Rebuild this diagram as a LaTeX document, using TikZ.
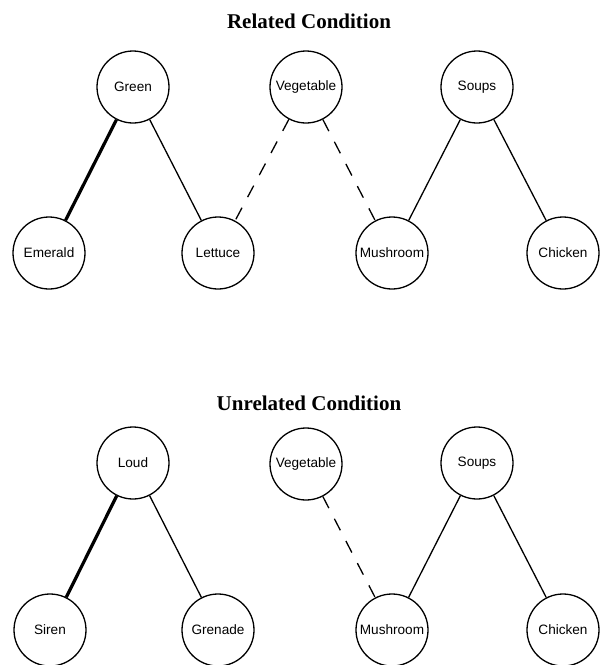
\documentclass[tikz,border=0pt]{standalone}
\usepackage{fontspec}
\setmainfont{Liberation Serif}
\setsansfont{Liberation Sans}
\begin{document}
\begin{tikzpicture}[x=1pt,y=-1pt,
  word/.style={circle, draw, line width=1.3pt, minimum size=72pt, inner sep=0pt,
    font=\sffamily\fontsize{13.6}{14}\selectfont},
  heading/.style={anchor=base, font=\bfseries\fontsize{21}{24}\selectfont},
  link/.style={line width=1.3pt},
  stronglink/.style={line width=3.2pt},
  weaklink/.style={line width=1.3pt, dash pattern=on 13pt off 12pt}]
\useasboundingbox (0,0) rectangle (600,665);

% Related condition
\node[heading] (t1) at (309,28) {Related Condition};
\node[word] (green) at (133,87) {Green};
\node[word] (veg1) at (306,87) {Vegetable};
\node[word] (soups1) at (477,87) {Soups};
\node[word] (emerald) at (49,253) {Emerald};
\node[word] (lettuce) at (218,253) {Lettuce};
\node[word] (mush1) at (392,253) {Mushroom};
\node[word] (chick1) at (563,253) {Chicken};

\draw[stronglink] (green) -- (emerald);
\draw[link] (green) -- (lettuce);
\draw[weaklink] (veg1) -- (lettuce);
\draw[weaklink] (veg1) -- (mush1);
\draw[link] (soups1) -- (mush1);
\draw[link] (soups1) -- (chick1);

% Unrelated condition
\node[heading] (t2) at (309,410) {Unrelated Condition};
\node[word] (loud) at (133,463) {Loud};
\node[word] (veg2) at (306,464) {Vegetable};
\node[word] (soups2) at (477,463) {Soups};
\node[word] (siren) at (50,630) {Siren};
\node[word] (grenade) at (218,630) {Grenade};
\node[word] (mush2) at (392,630) {Mushroom};
\node[word] (chick2) at (563,630) {Chicken};

\draw[stronglink] (loud) -- (siren);
\draw[link] (loud) -- (grenade);
\draw[weaklink] (veg2) -- (mush2);
\draw[link] (soups2) -- (mush2);
\draw[link] (soups2) -- (chick2);
\end{tikzpicture}
\end{document}
